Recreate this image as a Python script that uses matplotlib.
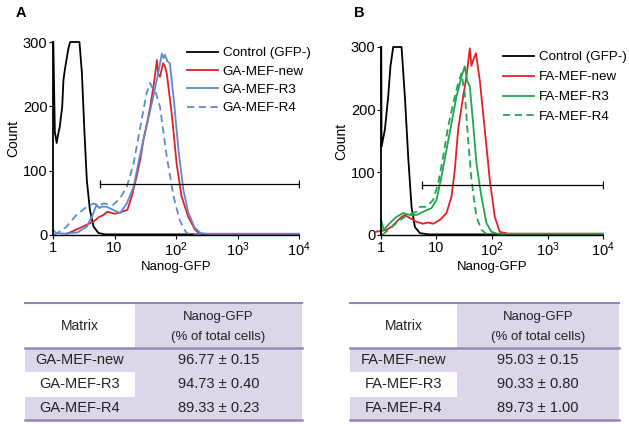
import numpy as np
import matplotlib
matplotlib.use("Agg")
from matplotlib import pyplot as plt
from matplotlib.patches import Rectangle

plt.rcParams['font.family'] = ['Liberation Sans', 'DejaVu Sans']
plt.rcParams['font.size'] = 10

RED = '#e41e26'
BLUE = '#5b8bcc'
GREEN = '#1fa64f'
LAV = '#ddd5e8'
LINE = '#9486b6'

# ---- panel A data (x as log10 of Nanog-GFP intensity, y = count) ----
a_ctrl_lx = [0.0, 0.005, 0.03, 0.06, 0.09, 0.11, 0.15, 0.17, 0.19, 0.21, 0.25, 0.28, 0.43, 0.47, 0.51, 0.55, 0.60, 0.66, 0.74, 0.85, 1.0, 2.0, 3.0, 4.0]
a_ctrl_y = [300, 300, 160, 143, 160, 168, 200, 241, 255, 267, 290, 300, 300, 252, 163, 85, 39, 13, 3, 1, 1, 1, 1, 1]

a_new_lx = [0.22, 0.3, 0.44, 0.55, 0.66, 0.75, 0.82, 0.88, 0.93, 1.0, 1.09, 1.15, 1.21, 1.28, 1.36, 1.42, 1.47, 1.52, 1.58, 1.64, 1.69, 1.71, 1.74, 1.79, 1.82, 1.85, 1.93, 2.01, 2.09, 2.2, 2.31, 2.39, 2.5, 3.0, 3.5, 4.0]
a_new_y = [2, 5, 11, 16, 21, 28, 31, 36, 35, 33, 35, 37, 39, 60, 91, 118, 148, 170, 199, 235, 272, 250, 246, 267, 262, 251, 189, 111, 60, 28, 8, 2, 1.5, 1.5, 1.5, 1.5]

a_r3_lx = [0.0, 0.05, 0.2, 0.4, 0.55, 0.63, 0.71, 0.75, 0.79, 0.87, 0.98, 1.09, 1.2, 1.31, 1.41, 1.52, 1.63, 1.71, 1.77, 1.8, 1.82, 1.86, 1.90, 1.96, 2.04, 2.12, 2.2, 2.3, 2.4, 2.5, 3.0, 3.5, 4.0]
a_r3_y = [8, 3, 2, 4, 13, 28, 47, 42, 44, 44, 39, 34, 49, 75, 122, 168, 215, 251, 282, 275, 280, 270, 267, 215, 132, 70, 35, 12, 3, 2, 2, 2, 2]

a_r4_lx = [0.02, 0.1, 0.22, 0.38, 0.55, 0.66, 0.75, 0.82, 0.98, 1.09, 1.2, 1.31, 1.41, 1.52, 1.58, 1.62, 1.66, 1.74, 1.85, 1.96, 2.06, 2.17, 2.3, 2.5]
a_r4_y = [0, 5, 13, 31, 44, 49, 46, 49, 47, 57, 75, 111, 163, 220, 236, 228, 225, 199, 122, 60, 23, 3, 1, 1]

# ---- panel B data ----
b_ctrl_lx = [0.0, 0.005, 0.01, 0.07, 0.13, 0.17, 0.22, 0.37, 0.43, 0.49, 0.55, 0.61, 0.70, 0.85, 1.0, 2.0, 3.0, 4.0]
b_ctrl_y = [300, 300, 141, 168, 221, 269, 300, 300, 221, 125, 45, 13, 3, 1, 1, 1, 1, 1]

b_new_lx = [-0.1, 0.1, 0.2, 0.28, 0.36, 0.43, 0.52, 0.64, 0.76, 0.85, 0.94, 1.06, 1.18, 1.27, 1.33, 1.39, 1.48, 1.54, 1.60, 1.63, 1.66, 1.71, 1.78, 1.87, 1.96, 2.05, 2.14, 2.3, 3.0, 3.5, 4.0]
b_new_y = [5, 8, 14, 21, 28, 32, 27, 21, 18, 20, 18, 24, 35, 61, 104, 168, 221, 253, 298, 270, 279, 290, 247, 168, 88, 29, 5, 2, 2, 2, 2]

b_r3_lx = [0.0, 0.001, 0.05, 0.16, 0.28, 0.40, 0.52, 0.64, 0.76, 0.91, 1.0, 1.09, 1.18, 1.27, 1.36, 1.45, 1.51, 1.55, 1.60, 1.66, 1.72, 1.81, 1.90, 1.99, 2.1, 2.3, 3.0, 3.5, 4.0]
b_r3_y = [0, 24, 8, 19, 29, 35, 32, 32, 37, 43, 56, 93, 136, 178, 221, 253, 269, 247, 237, 178, 114, 61, 19, 5, 2, 2, 2, 2, 2]

b_r4_lx = [0.02, 0.16, 0.34, 0.49, 0.64, 0.70, 0.82, 0.94, 1.03, 1.12, 1.21, 1.30, 1.39, 1.45, 1.51, 1.57, 1.63, 1.72, 1.81, 1.90, 2.0]
b_r4_y = [0, 10, 24, 32, 37, 45, 45, 56, 82, 125, 173, 210, 242, 258, 226, 152, 88, 29, 8, 2, 1]

a_labels = ['Control (GFP-)', 'GA-MEF-new', 'GA-MEF-R3', 'GA-MEF-R4']
b_labels = ['Control (GFP-)', 'FA-MEF-new', 'FA-MEF-R3', 'FA-MEF-R4']
a_gate = [5.8, 1e4, 79]
b_gate = [5.5, 1e4, 80]

xticks = [1, 10, 100, 1000, 10000]
xticklabels = ['1', '10', r'$\mathregular{10^2}$', r'$\mathregular{10^3}$', r'$\mathregular{10^4}$']
yticks = [0, 100, 200, 300]

# tables
a_matrix = ['GA-MEF-new', 'GA-MEF-R3', 'GA-MEF-R4']
a_vals = ['96.77 ± 0.15', '94.73 ± 0.40', '89.33 ± 0.23']
b_matrix = ['FA-MEF-new', 'FA-MEF-R3', 'FA-MEF-R4']
b_vals = ['95.03 ± 0.15', '90.33 ± 0.80', '89.73 ± 1.00']

W, H = 629, 424
fig = plt.figure(figsize=(W / 100, H / 100), dpi=100)


def px_axes(l, t, r, b):
    return fig.add_axes([l / W, 1 - b / H, (r - l) / W, (b - t) / H])


def hist_panel(ax, curves, color, labels, gate, leg_xy, spacing):
    ctrl, new, r3, r4 = curves
    ax.plot(10 ** np.array(ctrl[0]), ctrl[1], color='black', lw=1.3, clip_on=False, label=labels[0])
    ax.plot(10 ** np.array(new[0]), new[1], color=RED, lw=1.3, clip_on=False, label=labels[1])
    ax.plot(10 ** np.array(r3[0]), r3[1], color=color, lw=1.3, clip_on=False, label=labels[2])
    ax.plot(10 ** np.array(r4[0]), r4[1], color=color, lw=1.3, ls=(0, (4, 2.5)), clip_on=False, label=labels[3])
    ax.plot(gate[:2], [gate[2], gate[2]], color='black', lw=0.9)
    ax.plot(gate[:2], [gate[2], gate[2]], ls='none', marker='|', ms=6, mew=0.9, color='black')
    ax.set_xscale('log')
    ax.set_xlim(1, 1e4)
    ax.set_ylim(0, 300)
    ax.set_xticks(xticks)
    ax.set_xticklabels(xticklabels)
    ax.minorticks_off()
    ax.set_yticks(yticks)
    ax.tick_params(length=3, width=0.8, pad=1, labelsize=10.5)
    for s in ['top', 'right']:
        ax.spines[s].set_visible(False)
    ax.spines['left'].set_linewidth(1.3)
    ax.spines['bottom'].set_linewidth(1.0)
    ax.set_ylabel('Count', labelpad=2, fontsize=10)
    ax.set_xlabel('Nanog-GFP', labelpad=1.5, fontsize=9.5)
    ax.legend(loc='upper left', bbox_to_anchor=(leg_xy[0] / W, 1 - leg_xy[1] / H),
              bbox_transform=fig.transFigure, frameon=False, borderpad=0, borderaxespad=0,
              handlelength=2.3, handletextpad=0.38, labelspacing=spacing, fontsize=9.6)


axA = px_axes(53, 42, 299, 235)
hist_panel(axA, [(a_ctrl_lx, a_ctrl_y), (a_new_lx, a_new_y), (a_r3_lx, a_r3_y), (a_r4_lx, a_r4_y)],
           BLUE, a_labels, a_gate, (187, 47), 0.45)
axB = px_axes(381, 47, 603, 235)
hist_panel(axB, [(b_ctrl_lx, b_ctrl_y), (b_new_lx, b_new_y), (b_r3_lx, b_r3_y), (b_r4_lx, b_r4_y)],
           GREEN, b_labels, b_gate, (503, 51), 0.57)

fig.text(16 / W, 1 - 6 / H, 'A', fontsize=10.5, fontweight='bold', va='top')
fig.text(354 / W, 1 - 6 / H, 'B', fontsize=10.5, fontweight='bold', va='top')

# table overlay in pixel coordinates
tab = fig.add_axes([0, 0, 1, 1], zorder=-1)
tab.set_xlim(0, W)
tab.set_ylim(H, 0)
tab.axis('off')


def draw_table(x0, xs, x1, names, vals):
    rows = [303, 348, 372, 397, 420]
    tab.add_patch(Rectangle((xs, rows[0]), x1 - xs, rows[1] - rows[0], color=LAV, lw=0))
    tab.add_patch(Rectangle((x0, rows[1]), x1 - x0, rows[2] - rows[1], color=LAV, lw=0))
    tab.add_patch(Rectangle((xs, rows[2]), x1 - xs, rows[3] - rows[2], color=LAV, lw=0))
    tab.add_patch(Rectangle((x0, rows[3]), x1 - x0, rows[4] - rows[3], color=LAV, lw=0))
    tab.plot([x0, x1], [rows[0], rows[0]], color=LINE, lw=1.5)
    tab.plot([x0, x1], [rows[1], rows[1]], color=LINE, lw=1.8)
    tab.plot([x0, x1], [rows[4], rows[4]], color=LINE, lw=1.8)
    cl = (x0 + xs) / 2
    cr = (xs + x1) / 2
    tab.text(cl, 326, 'Matrix', ha='center', va='center', fontsize=10, color='#222222')
    tab.text(cr, 317, 'Nanog-GFP', ha='center', va='center', fontsize=9.5, color='#222222')
    tab.text(cr, 337, '(% of total cells)', ha='center', va='center', fontsize=9.5, color='#222222')
    for i in range(3):
        yc = (rows[i + 1] + rows[i + 2]) / 2
        tab.text(cl, yc, names[i], ha='center', va='center', fontsize=10.5, color='#222222')
        tab.text(cr, yc, vals[i], ha='center', va='center', fontsize=10.5, color='#222222')


draw_table(25, 135, 302, a_matrix, a_vals)
draw_table(350, 457, 619, b_matrix, b_vals)

fig.savefig('out.png', dpi=100)
